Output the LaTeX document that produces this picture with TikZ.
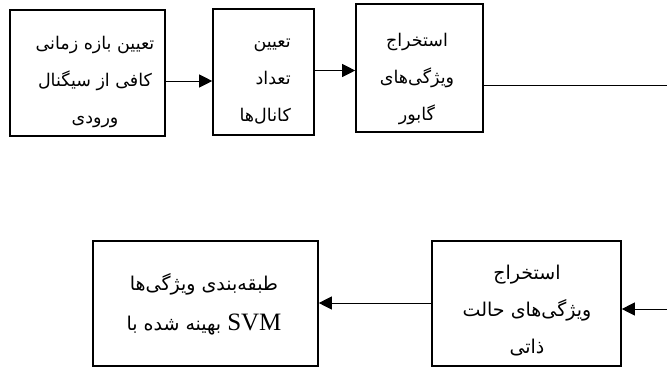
\documentclass[tikz,border=0pt]{standalone}
\usepackage{fontspec}
\TeXXeTstate=1
\newfontfamily\arabicfont[Script=Arabic]{DejaVu Sans}
\newfontfamily\latinserif{Liberation Serif}
\usetikzlibrary{arrows.meta}
\newcommand{\rl}[1]{\beginR #1\endR}
\begin{document}
\begin{tikzpicture}[x=1pt,y=-1pt,
  box/.style={draw, line width=1.6pt, inner sep=0pt},
  txt/.style={font=\arabicfont\fontsize{17.5}{37}\selectfont, align=center, inner sep=0pt},
  btxt/.style={font=\arabicfont\fontsize{19}{37}\selectfont, align=center, inner sep=0pt},
  arr/.style={line width=0.8pt, -{Triangle[length=13pt,width=13pt]}},
  ln/.style={line width=0.8pt}]
\useasboundingbox (0,0) rectangle (667,368);
% boxes
\node[box, minimum width=155pt, minimum height=126pt] (b1) at (87.5,73) {};
\node[box, minimum width=101pt, minimum height=126pt] (b2) at (263.5,72) {};
\node[box, minimum width=127pt, minimum height=128pt] (b3) at (419.5,68) {};
\node[box, minimum width=189pt, minimum height=125pt] (b4) at (526.5,303.5) {};
\node[box, minimum width=225pt, minimum height=125pt] (b5) at (205.5,303.5) {};
% texts
\node[txt] (t1) at (95,82) {\rl{تعیین بازه زمانی}\\\rl{کافی از سیگنال}\\\rl{ورودی}};
\node[txt, align=right, anchor=east] (t2) at (291,81.5) {\rl{تعیین}\\\rl{تعداد}\\\rl{کانال‌ها}};
\node[txt] (t3) at (417,79) {\rl{استخراج}\\\rl{ویژگی‌های}\\\rl{گابور}};
\node[btxt] (t4) at (527,311) {\rl{استخراج}\\\rl{ویژگی‌های حالت}\\\rl{ذاتی}};
\node[btxt, font=\arabicfont\fontsize{19}{40}\selectfont] (t5) at (204,304) {\rl{طبقه‌بندی ویژگی‌ها}\\\rl{\beginL{\latinserif\fontsize{25}{25}\selectfont SVM}\endL{} بهینه شده با}};
% connector helpers
\coordinate (y1) at (0,81);
\coordinate (y2) at (0,70.5);
\coordinate (y3) at (0,85);
\coordinate (y4) at (0,309);
\coordinate (y5) at (0,303);
\coordinate (e1) at (667,85);
\coordinate (e2) at (667,309);
% connectors
\draw[arr] (b1.east |- y1) -- (b2.west |- y1);
\draw[arr] (b2.east |- y2) -- (b3.west |- y2);
\draw[ln] (b3.east |- y3) -- (e1);
\draw[arr] (e2) -- (b4.east |- y4);
\draw[arr] (b4.west |- y5) -- (b5.east |- y5);
\end{tikzpicture}
\end{document}
